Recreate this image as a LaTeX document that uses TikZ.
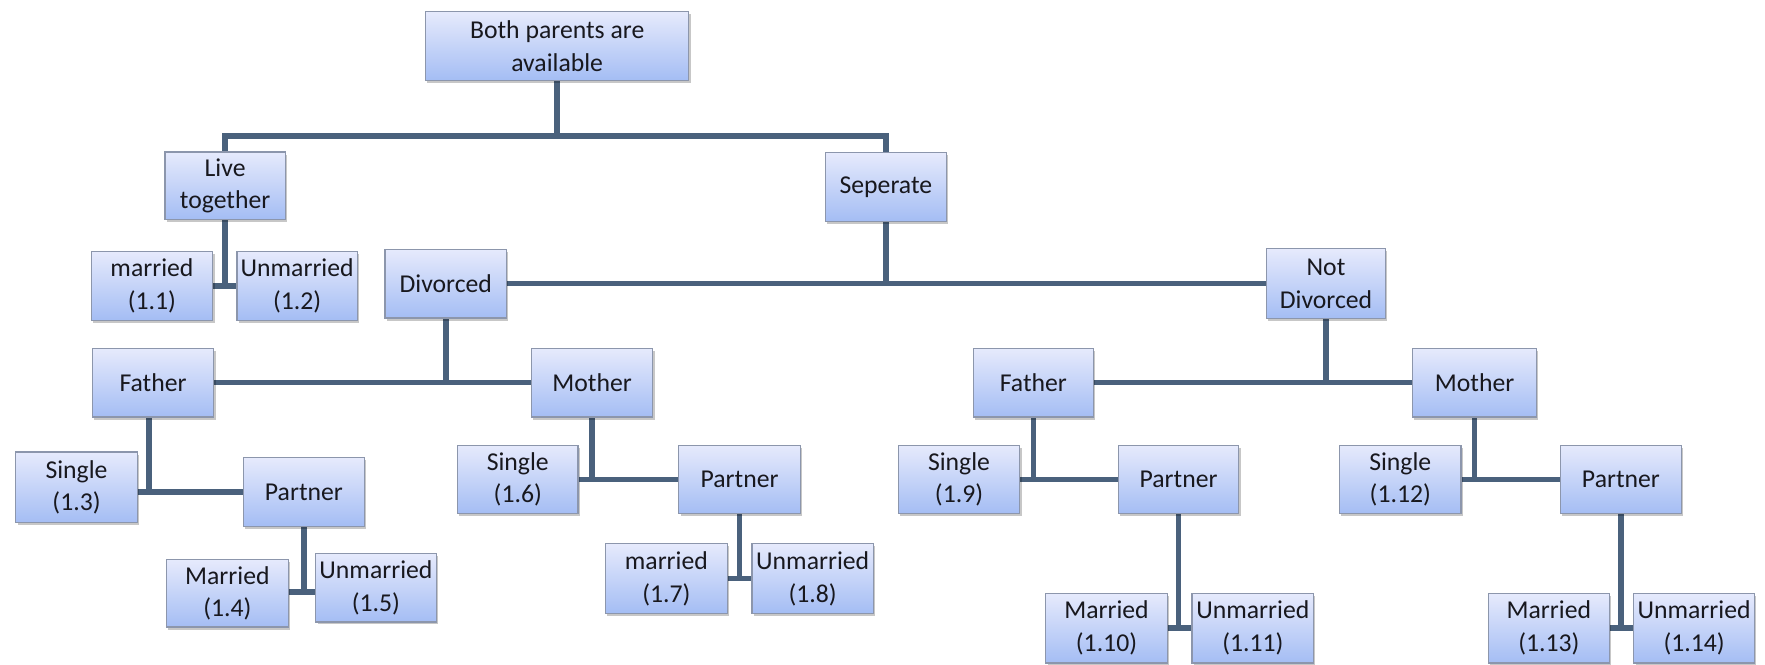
\documentclass[tikz,border=0pt]{standalone}
\usepackage{fontspec}
\setmainfont{Carlito}
\usetikzlibrary{shadows}
\pgfdeclarelayer{wires}
\pgfsetlayers{wires,main}
\definecolor{boxtop}{RGB}{230,234,252}
\definecolor{boxbot}{RGB}{164,189,244}
\definecolor{boxline}{RGB}{140,150,172}
\definecolor{wire}{RGB}{74,97,124}
\definecolor{ink}{RGB}{24,24,30}
\tikzset{
  famnode/.style={draw=boxline, line width=0.6pt, top color=boxtop, bottom color=boxbot,
    minimum width=2.16cm, minimum height=1.22cm, inner sep=0pt, align=center,
    text=ink, font=\fontsize{13}{16.5}\selectfont,
    drop shadow={shadow xshift=0.9pt, shadow yshift=-1.3pt, fill=black, opacity=0.22}},
  wide/.style={minimum width=4.68cm},
  link/.style={draw=wire, line width=2.8pt}
}
\begin{document}
\begin{tikzpicture}[x=0.02cm, y=-0.02cm]
\useasboundingbox (0,0) rectangle (1568,590);

% level 1 and 2 boxes
\node[famnode, wide] (root) at (495,41) {Both parents are\\available};
\node[famnode, minimum width=2.14cm, minimum height=1.2cm] (live) at (200,165) {Live\\together};
\node[famnode] (sep) at (787,166) {Seperate};

% living together
\node[famnode] (m11) at (135,254) {married\\(1.1)};
\node[famnode, minimum width=2.14cm] (u12) at (264,254) {Unmarried\\(1.2)};

% separated
\node[famnode] (div) at (396,252) {Divorced};
\node[famnode, minimum width=2.12cm, minimum height=1.24cm] (notdiv) at (1178,252) {Not\\Divorced};

% divorced branch
\node[famnode] (fa1) at (136,340) {Father};
\node[famnode] (mo1) at (526,340) {Mother};
\node[famnode, minimum height=1.26cm] (s13) at (68,433) {Single\\(1.3)};
\node[famnode, minimum width=2.14cm] (p1) at (270,437) {Partner};
\node[famnode, minimum height=1.2cm] (m14) at (202,527) {Married\\(1.4)};
\node[famnode, minimum width=2.14cm] (u15) at (334,522) {Unmarried\\(1.5)};
\node[famnode, minimum width=2.14cm] (s16) at (460,426) {Single\\(1.6)};
\node[famnode] (p2) at (657,426) {Partner};
\node[famnode, minimum height=1.24cm] (m17) at (592,514) {married\\(1.7)};
\node[famnode, minimum height=1.24cm] (u18) at (722,514) {Unmarried\\(1.8)};

% not divorced branch
\node[famnode, minimum width=2.14cm] (fa2) at (918,340) {Father};
\node[famnode, minimum width=2.2cm] (mo2) at (1310,340) {Mother};
\node[famnode] (s19) at (852,426) {Single\\(1.9)};
\node[famnode, minimum width=2.14cm] (p3) at (1047,426) {Partner};
\node[famnode, minimum height=1.24cm] (m110) at (983,558) {Married\\(1.10)};
\node[famnode, minimum height=1.24cm] (u111) at (1113,558) {Unmarried\\(1.11)};
\node[famnode] (s112) at (1244,426) {Single\\(1.12)};
\node[famnode] (p4) at (1440,426) {Partner};
\node[famnode, minimum height=1.24cm] (m113) at (1376,558) {Married\\(1.13)};
\node[famnode, minimum width=2.14cm, minimum height=1.24cm] (u114) at (1505,558) {Unmarried\\(1.14)};

% junction points of the elbow connectors
\coordinate (j1) at (495,121);
\coordinate (k1) at (270,526);

% connectors, kept behind the boxes
\begin{pgfonlayer}{wires}
\draw[link] (root.south) -- (j1);
\draw[link] (live.north) |- (j1) -| (sep.north);

\draw[link] (live.south) -- (live.south |- m11.east);
\draw[link] (m11.east) -- (u12.west);

\draw[link] (sep.south) -- (sep.south |- div.east);
\draw[link] (div.east) -- (notdiv.west);

\draw[link] (div.south) -- (div.south |- fa1.east);
\draw[link] (fa1.east) -- (mo1.west);

\draw[link] ([xshift=-2]fa1.south) -- ([xshift=-2]fa1.south |- p1.west);
\draw[link] (p1.west) -- (p1.west -| s13.east);
\draw[link] (p1.south) -- (k1);
\draw[link] (k1 -| m14.east) -- (k1 -| u15.west);

\draw[link] (mo1.south) -- (mo1.south |- p2.west);
\draw[link] (s16.east) -- (p2.west);
\draw[link] (p2.south) -- (p2.south |- m17.east);
\draw[link] (m17.east) -- (u18.west);

\draw[link] (notdiv.south) -- (notdiv.south |- fa2.east);
\draw[link] (fa2.east) -- (mo2.west);

\draw[link] (fa2.south) -- (fa2.south |- p3.west);
\draw[link] (s19.east) -- (p3.west);
\draw[link] (p3.south) -- (p3.south |- m110.east);
\draw[link] (m110.east) -- (u111.west);

\draw[link] (mo2.south) -- (mo2.south |- p4.west);
\draw[link] (s112.east) -- (p4.west);
\draw[link] (p4.south) -- (p4.south |- m113.east);
\draw[link] (m113.east) -- (u114.west);
\end{pgfonlayer}
\end{tikzpicture}
\end{document}
